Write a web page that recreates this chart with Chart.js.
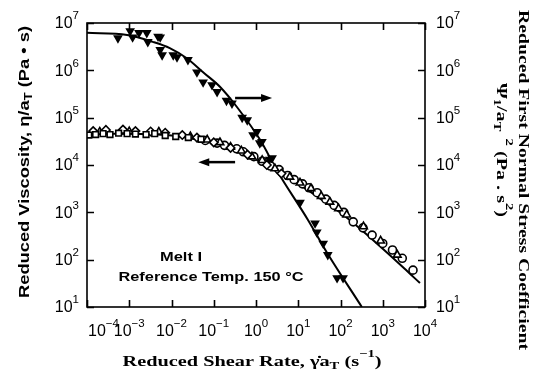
<!DOCTYPE html>
<html>
<head>
<meta charset="utf-8">
<script src="https://cdn.jsdelivr.net/npm/chart.js@4.4.1/dist/chart.umd.min.js"></script>
<style>
  html, body { margin: 0; padding: 0; background: #fff; }
  canvas { display: block; }
</style>
</head>
<body>
<canvas id="rheo" width="540" height="377"></canvas>
<script>
// Decades shown on the axes (labels are 10^n)
const xExponents = [-4, -3, -2, -1, 0, 1, 2, 3, 4];
const yExponents = [1, 2, 3, 4, 5, 6, 7];

// Reduced viscosity eta/aT (Pa s) - open squares
const sqRate = [1.1e-4, 1.6e-4, 2.4e-4, 3.5e-4, 5.6e-4, 8.9e-4, 1.4e-3, 2.5e-3, 4.0e-3, 7.1e-3, 1.26e-2, 2.5e-2, 5.0e-2];
const sqEta = [4.3e4, 4.4e4, 4.6e4, 4.4e4, 4.7e4, 4.6e4, 4.5e4, 4.4e4, 4.6e4, 4.2e4, 4.0e4, 3.8e4, 3.5e4];

// open diamonds
const dmRate = [1.4e-4, 2.8e-4, 7.1e-4, 1.4e-3, 3.2e-3, 7.1e-3, 1.8e-2, 4.0e-2, 0.1, 0.25, 0.63, 1.8, 4.0];
const dmEta = [5.2e4, 5.5e4, 5.6e4, 5.2e4, 5.1e4, 4.8e4, 4.3e4, 3.8e4, 3.0e4, 2.3e4, 1.66e4, 1.0e4, 6.6e3];

// open triangles
const trRate = [2.0e-4, 1.0e-3, 5.0e-3, 2.8e-2, 0.07, 0.14, 0.25, 0.45, 0.8, 1.4, 2.8, 6.3, 11, 20, 35, 56, 90, 140,
  350, 890, 2200];
const trEta = [5.0e4, 5.1e4, 5.0e4, 4.0e4, 3.4e4, 3.0e4, 2.4e4, 2.0e4, 1.5e4, 1.26e4, 8.4e3, 5.6e3, 4.2e3, 3.2e3,
  2.2e3, 1.66e3, 1.2e3, 890, 500, 250, 126];

// open circles
const ciRate = [6.3e-2, 0.12, 0.18, 0.35, 0.5, 0.89, 1.4, 2.2, 3.5, 5.6, 8, 12.6, 18, 28, 45, 71, 120, 200, 340, 560,
  1000, 1700, 2900, 5200];
const ciEta = [3.3e4, 2.9e4, 2.6e4, 2.2e4, 1.9e4, 1.5e4, 1.2e4, 9.5e3, 8.0e3, 6.0e3, 4.9e3, 4.0e3, 3.3e3, 2.6e3,
  1.9e3, 1.4e3, 1.0e3, 630, 470, 330, 220, 160, 107, 60];

// Reduced first normal stress coefficient psi1/aT^2 (Pa s^2) - filled triangles
const psiRate = [5.4e-4, 1.05e-3, 1.2e-3, 1.7e-3, 2.6e-3, 2.75e-3, 4.8e-3, 5.4e-3, 5.4e-3, 6.0e-3, 1.1e-2, 1.35e-2,
  2.45e-2, 4.0e-2, 5.6e-2, 9.1e-2, 0.12, 0.2, 0.27, 0.47, 0.62, 0.85, 1.05, 1.23, 1.38, 2.1, 2.4, 3.5, 11, 25, 27.5,
  39, 50, 83, 115];
const psiVal = [4.8e6, 6.8e6, 5.0e6, 6.2e6, 6.2e6, 4.0e6, 5.2e6, 5.0e6, 2.7e6, 2.1e6, 2.1e6, 1.9e6,
  1.66e6, 9.1e5, 5.6e5, 4.9e5, 3.5e5, 2.3e5, 2.0e5, 1.0e5, 8.9e4, 4.3e4, 5.0e4, 2.9e4, 3.1e4, 1.3e4, 1.4e4, 7.6e3, 1.6e3, 5.9e2, 3.8e2,
  2.2e2, 1.26e2, 41, 41];

// Fitted curves
const etaFitRate = [1e-4, 1e-3, 1e-2, 3.2e-2, 0.1, 0.32, 1, 3.2, 10, 32, 100, 320, 1000, 3200, 7600];
const etaFitVal = [4.6e4, 4.6e4, 4.2e4, 3.6e4, 3.0e4, 2.1e4, 1.3e4, 7.2e3, 4.0e3, 2.0e3, 980, 420, 170, 66, 32];
const psiFitRate = [1e-4, 8.9e-4, 3.6e-3, 9.1e-3, 2.3e-2, 5.6e-2, 0.14, 0.35, 1.25, 3.2, 17, 48, 320];
const psiFitVal = [6.2e6, 5.6e6, 4.0e6, 2.95e6, 1.8e6, 9.1e5, 4.5e5, 1.7e5, 3.4e4, 7.4e3, 690, 140, 10];

const SANS = '"Liberation Sans", Arial, sans-serif';
const SERIF = '"Liberation Serif", "DejaVu Serif", serif';

const pairs = (xs, ys) => xs.map((x, i) => ({ x, y: ys[i] }));

/**
 * Draws a line of text made of runs, each run plain, superscript or subscript.
 * Returns the drawn width.
 */
function drawRich(ctx, runs, x, y, style) {
  const {
    size, family, weight = 'normal', align = 'center', fitWidth = null,
  } = style;
  const pieces = runs.map(([text, mode = '']) => {
    const s = mode ? size * 0.72 : size;
    ctx.font = `${weight} ${s}px ${family}`;
    return { text, mode, s, w: ctx.measureText(text).width };
  });
  const total = pieces.reduce((a, p) => a + p.w, 0);
  const sx = fitWidth ? fitWidth / total : 1;
  ctx.save();
  ctx.translate(x, y);
  ctx.scale(sx, 1);
  let cx = 0;
  if (align === 'center') cx = -total / 2;
  if (align === 'right') cx = -total;
  ctx.textBaseline = 'middle';
  ctx.textAlign = 'left';
  ctx.fillStyle = '#000';
  pieces.forEach((p) => {
    ctx.font = `${weight} ${p.s}px ${family}`;
    let dy = 0;
    if (p.mode === 'sup') dy = -size * 0.5;
    if (p.mode === 'sub') dy = size * 0.3;
    ctx.fillText(p.text, cx, dy);
    cx += p.w;
  });
  ctx.restore();
  return total * sx;
}

function expText(n) {
  return String(n).replace('-', '\u2212');
}

function arrow(ctx, x1, x2, y) {
  const dir = Math.sign(x2 - x1);
  ctx.save();
  ctx.strokeStyle = '#000';
  ctx.fillStyle = '#000';
  ctx.lineWidth = 2.5;
  ctx.beginPath();
  ctx.moveTo(x1, y);
  ctx.lineTo(x2 - dir * 8, y);
  ctx.stroke();
  ctx.beginPath();
  ctx.moveTo(x2, y);
  ctx.lineTo(x2 - dir * 11, y - 4);
  ctx.lineTo(x2 - dir * 11, y + 4);
  ctx.closePath();
  ctx.fill();
  ctx.restore();
}

// Frame, inward ticks, tick labels, titles and annotations
const decorations = {
  id: 'decorations',
  afterDatasetsDraw(chart) {
    const { ctx, chartArea: a } = chart;
    const xs = chart.scales.x;
    const ys = chart.scales.y;
    const tick = 7;

    ctx.save();
    ctx.strokeStyle = '#000';
    ctx.lineWidth = 1.6;
    ctx.strokeRect(a.left, a.top, a.right - a.left, a.bottom - a.top);

    ctx.beginPath();
    xExponents.forEach((e) => {
      const px = Math.round(xs.getPixelForValue(10 ** e)) + 0.5;
      ctx.moveTo(px, a.bottom); ctx.lineTo(px, a.bottom - tick);
      ctx.moveTo(px, a.top); ctx.lineTo(px, a.top + tick);
    });
    yExponents.forEach((e) => {
      const py = Math.round(ys.getPixelForValue(10 ** e)) + 0.5;
      ctx.moveTo(a.left, py); ctx.lineTo(a.left + tick, py);
      ctx.moveTo(a.right, py); ctx.lineTo(a.right - tick, py);
    });
    ctx.stroke();

    // tick labels
    const tickSize = 16;
    const tickStyle = { size: tickSize, family: SANS };
    xExponents.forEach((e) => {
      const px = xs.getPixelForValue(10 ** e);
      ctx.font = `normal ${tickSize}px ${SANS}`;
      const w1 = ctx.measureText('10').width;
      ctx.font = `normal ${tickSize * 0.72}px ${SANS}`;
      const w2 = ctx.measureText(expText(e)).width;
      const left = Math.max(px - (w1 + w2) / 2, a.left + 1);
      drawRich(ctx, [['10'], [expText(e), 'sup']], left, 332, { ...tickStyle, align: 'left' });
    });
    yExponents.forEach((e) => {
      const py = ys.getPixelForValue(10 ** e);
      drawRich(ctx, [['10'], [expText(e), 'sup']], 79, py + 1, { ...tickStyle, align: 'right' });
      drawRich(ctx, [['10'], [expText(e), 'sup']], 436, py + 1, { ...tickStyle, align: 'left' });
    });

    // x title
    drawRich(ctx, [['Reduced Shear Rate, \u03B3\u0307a'], ['T', 'sub'], [' (s'], ['\u22121', 'sup'], [')']],
      252, 362, { size: 15, family: SERIF, weight: 'bold', fitWidth: 259 });

    // left title
    ctx.save();
    ctx.translate(25, 162);
    ctx.rotate(-Math.PI / 2);
    drawRich(ctx, [['Reduced Viscosity, \u03B7/a'], ['T', 'sub'], [' (Pa \u2022 s)']],
      0, 0, { size: 14, family: SANS, weight: 'bold', fitWidth: 272 });
    ctx.restore();

    // right titles
    ctx.save();
    ctx.translate(523, 180);
    ctx.rotate(Math.PI / 2);
    drawRich(ctx, [['Reduced First Normal Stress Coefficient']],
      0, 0, { size: 15, family: SERIF, weight: 'bold', fitWidth: 340 });
    ctx.restore();
    ctx.save();
    ctx.translate(501, 150);
    ctx.rotate(Math.PI / 2);
    drawRich(ctx, [['\u03A8'], ['1', 'sub'], ['/a'], ['T', 'sub'], ['  2', 'sup'], [' (Pa . s'], ['2', 'sup'], [')']],
      0, 0, { size: 15, family: SERIF, weight: 'bold', fitWidth: 134 });
    ctx.restore();

    // direction arrows: filled triangles read on the right axis, open symbols on the left
    arrow(ctx, xs.getPixelForValue(0.32), xs.getPixelForValue(2.4), ys.getPixelForValue(2.6e5));
    arrow(ctx, xs.getPixelForValue(0.32), xs.getPixelForValue(0.043), ys.getPixelForValue(1.15e4));

    drawRich(ctx, [['Melt I']], 181, 257, { size: 13, family: SANS, weight: 'bold', fitWidth: 42 });
    drawRich(ctx, [['Reference Temp. 150 \u00B0C']], 211, 277, { size: 13, family: SANS, weight: 'bold', fitWidth: 185 });
    ctx.restore();
  },
};

const openPoint = {
  showLine: false,
  borderColor: '#000',
  backgroundColor: '#fff',
  borderWidth: 1.6,
  yAxisID: 'y',
};

const chart = new Chart(document.getElementById('rheo'), {
  type: 'scatter',
  data: {
    datasets: [
      {
        ...openPoint, label: 'squares', data: pairs(sqRate, sqEta), pointStyle: 'rect', pointRadius: 4,
      },
      {
        ...openPoint, label: 'diamonds', data: pairs(dmRate, dmEta), pointStyle: 'rectRot', pointRadius: 4.2,
      },
      {
        ...openPoint, label: 'triangles', data: pairs(trRate, trEta), pointStyle: 'triangle', pointRadius: 4.4,
      },
      {
        ...openPoint, label: 'circles', data: pairs(ciRate, ciEta), pointStyle: 'circle', pointRadius: 4,
      },
      {
        label: 'psi1',
        data: pairs(psiRate, psiVal),
        showLine: false,
        pointStyle: 'triangle',
        rotation: 180,
        pointRadius: 5.6,
        borderWidth: 0,
        backgroundColor: '#000',
        borderColor: '#000',
        yAxisID: 'y2',
      },
      {
        label: 'eta fit',
        data: pairs(etaFitRate, etaFitVal),
        showLine: true,
        pointRadius: 0,
        borderColor: '#000',
        borderWidth: 2,
        cubicInterpolationMode: 'monotone',
        yAxisID: 'y',
      },
      {
        label: 'psi1 fit',
        data: pairs(psiFitRate, psiFitVal),
        showLine: true,
        pointRadius: 0,
        borderColor: '#000',
        borderWidth: 2,
        cubicInterpolationMode: 'monotone',
        yAxisID: 'y2',
      },
    ],
  },
  options: {
    responsive: false,
    animation: false,
    events: [],
    layout: {
      padding: {
        left: 87, right: 115, top: 23, bottom: 70,
      },
    },
    plugins: {
      legend: { display: false },
      tooltip: { enabled: false },
    },
    scales: {
      x: {
        type: 'logarithmic', min: 1e-4, max: 1e4, display: false,
      },
      y: {
        type: 'logarithmic', min: 1e1, max: 1e7, display: false,
      },
      y2: {
        type: 'logarithmic', position: 'right', min: 1e1, max: 1e7, display: false,
      },
    },
  },
  plugins: [decorations],
});
</script>
</body>
</html>
